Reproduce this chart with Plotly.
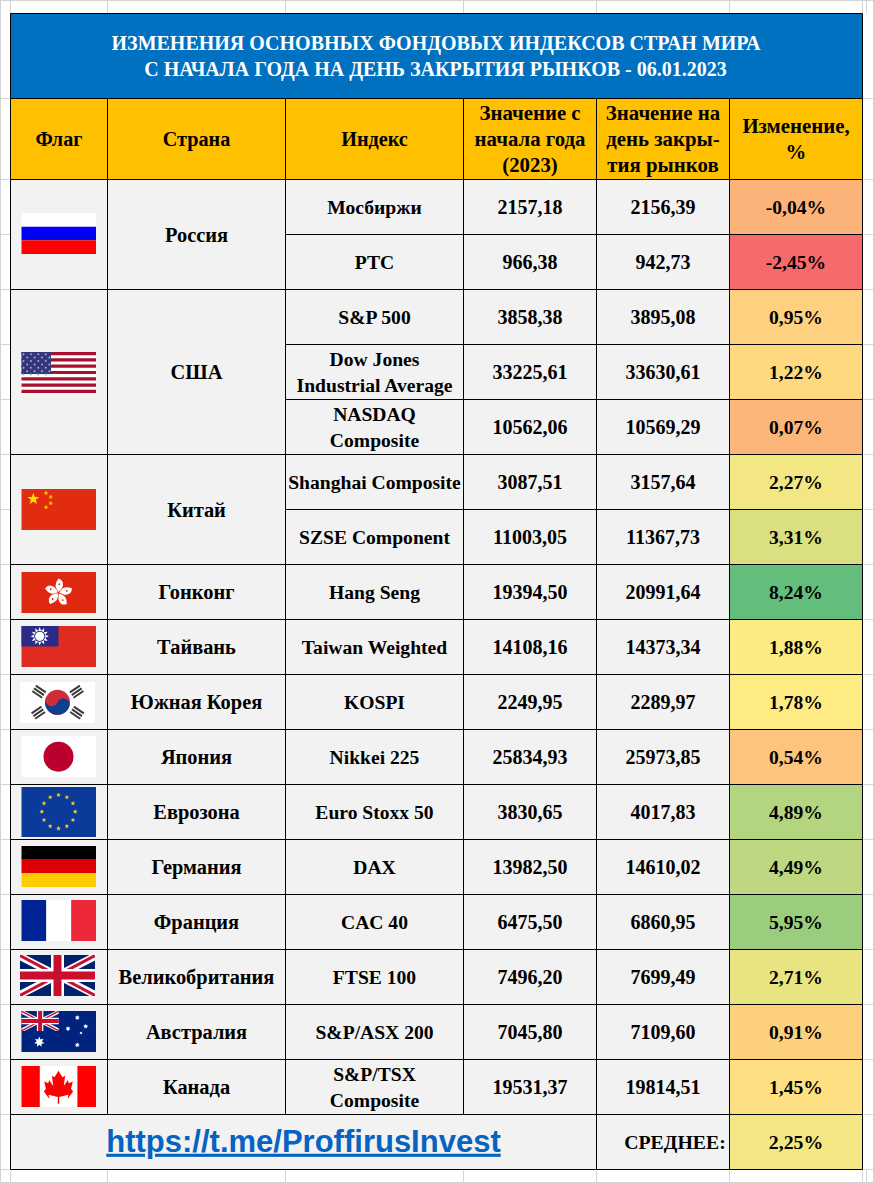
import math
import plotly.graph_objects as go

# ---------- data ----------
title_lines = ["ИЗМЕНЕНИЯ ОСНОВНЫХ ФОНДОВЫХ ИНДЕКСОВ СТРАН МИРА",
               "С НАЧАЛА ГОДА НА ДЕНЬ ЗАКРЫТИЯ РЫНКОВ - 06.01.2023"]
headers = ["Флаг", "Страна", "Индекс", "Значение с\nначала года\n(2023)",
           "Значение на\nдень закры-\nтия рынков", "Изменение,\n%"]
countries = ["Россия", "США", "Китай", "Гонконг", "Тайвань", "Южная Корея", "Япония",
             "Еврозона", "Германия", "Франция", "Великобритания", "Австралия", "Канада"]
country_row_counts = [2, 3, 2, 1, 1, 1, 1, 1, 1, 1, 1, 1, 1]
indices = ["Мосбиржи", "РТС", "S&P 500", "Dow Jones\nIndustrial Average", "NASDAQ\nComposite",
           "Shanghai Composite", "SZSE Component", "Hang Seng", "Taiwan Weighted", "KOSPI",
           "Nikkei 225", "Euro Stoxx 50", "DAX", "CAC 40", "FTSE 100", "S&P/ASX 200",
           "S&P/TSX\nComposite"]
start_values = [2157.18, 966.38, 3858.38, 33225.61, 10562.06, 3087.51, 11003.05, 19394.50,
                14108.16, 2249.95, 25834.93, 3830.65, 13982.50, 6475.50, 7496.20, 7045.80, 19531.37]
close_values = [2156.39, 942.73, 3895.08, 33630.61, 10569.29, 3157.64, 11367.73, 20991.64,
                14373.34, 2289.97, 25973.85, 4017.83, 14610.02, 6860.95, 7699.49, 7109.60, 19814.51]
changes = [-0.04, -2.45, 0.95, 1.22, 0.07, 2.27, 3.31, 8.24, 1.88, 1.78, 0.54, 4.89, 4.49,
           5.95, 2.71, 0.91, 1.45]
average_label = "СРЕДНЕЕ:"
average_change = 2.25
link_text = "https://t.me/ProffirusInvest"

# ---------- layout geometry (pixels) ----------
X = [10.5, 107.5, 285.5, 463.5, 596.5, 729.5, 862.5]
Y_TITLE, Y_HEAD, Y_BODY = 13.5, 98.5, 179.5
ROW_Y = [179.5, 234.5, 289.5, 344.5, 399.5, 454.5, 509.5, 564.5, 619.5, 674.5, 729.5,
         784.5, 839.5, 894.5, 949.5, 1004.5, 1059.5, 1114.5]
Y_END = 1169.5
W, H = 873, 1183
SERIF = "Liberation Serif"
CELL_SIZE = 19.8

shapes = []

def rect(x0, y0, x1, y1, fill, line=None, lw=1):
    shapes.append(dict(type="rect", xref="x", yref="y", x0=x0, y0=y0, x1=x1, y1=y1,
                       fillcolor=fill, line=dict(color=line or "rgba(0,0,0,0)", width=lw if line else 0),
                       layer="below"))

def poly(pts, fill):
    p = "M" + " L".join(f"{a:.2f},{b:.2f}" for a, b in pts) + " Z"
    shapes.append(dict(type="path", xref="x", yref="y", path=p, fillcolor=fill, line=dict(width=0), layer="below"))

def circle(cx, cy, r, fill):
    shapes.append(dict(type="circle", xref="x", yref="y", x0=cx - r, x1=cx + r, y0=cy - r, y1=cy + r,
                       fillcolor=fill, line=dict(width=0), layer="below"))

def star(cx, cy, r, fill, n=5, inner=0.42, rot=-90):
    pts = []
    for i in range(2 * n):
        rr = r if i % 2 == 0 else r * inner
        a = math.radians(rot + i * 180 / n)
        pts.append((cx + rr * math.cos(a), cy + rr * math.sin(a)))
    poly(pts, fill)

def hline(x0, x1, y, color="#d4d4d4", w=1):
    shapes.append(dict(type="line", xref="x", yref="y", x0=x0, x1=x1, y0=y, y1=y, line=dict(color=color, width=w), layer="below"))

def vline(x, y0, y1, color="#d4d4d4", w=1):
    shapes.append(dict(type="line", xref="x", yref="y", x0=x, x1=x, y0=y0, y1=y1, line=dict(color=color, width=w), layer="below"))

# spreadsheet gridlines outside the table
hline(0, W, 0.5)
hline(0, W, H - 0.5)
vline(0.5, 0, H)
vline(866.5, 0, 13)
vline(866.5, 1170, H)
for x in X:
    vline(x, 0, 13)
    vline(x, 1170, H)
for y in [Y_HEAD] + ROW_Y + [Y_END]:
    hline(0, 10, y)
    hline(863, W, y)

# ---------- change colours: Excel style 3-colour scale ----------
def lerp(a, b, t):
    return tuple(a[i] + (b[i] - a[i]) * t for i in range(3))

RED, YEL, GRN = (248, 105, 107), (255, 235, 132), (99, 190, 123)
lo, hi = min(changes), max(changes)
mid = sorted(changes)[len(changes) // 2]

def scale(v):
    if v <= mid:
        c = lerp(RED, YEL, (v - lo) / (mid - lo))
    else:
        c = lerp(YEL, GRN, (v - mid) / (hi - mid))
    return "rgb(%d,%d,%d)" % c

# ---------- cells ----------
BLK = "#000000"
rect(X[0], Y_TITLE, X[6], Y_HEAD, "#0070C0", BLK)
for i in range(6):
    rect(X[i], Y_HEAD, X[i + 1], Y_BODY, "#FFC000", BLK)
GREY = "#F2F2F2"
r = 0
country_spans = []
for n in country_row_counts:
    y0, y1 = ROW_Y[r], ROW_Y[r + n]
    country_spans.append((y0, y1))
    rect(X[0], y0, X[1], y1, GREY, BLK)
    rect(X[1], y0, X[2], y1, GREY, BLK)
    r += n
for i, ch in enumerate(changes):
    y0, y1 = ROW_Y[i], ROW_Y[i + 1]
    rect(X[2], y0, X[3], y1, GREY, BLK)
    rect(X[3], y0, X[4], y1, GREY, BLK)
    rect(X[4], y0, X[5], y1, GREY, BLK)
    rect(X[5], y0, X[6], y1, scale(ch), BLK)
rect(X[0], ROW_Y[-1], X[4], Y_END, GREY, BLK)
rect(X[4], ROW_Y[-1], X[5], Y_END, GREY, BLK)
rect(X[5], ROW_Y[-1], X[6], Y_END, scale(average_change), BLK)

# ---------- flags ----------
FX0, FX1 = 21.5, 96.0

def uk(x0, y0, x1, y1, navy="#012169", k=1.0):
    rect(x0, y0, x1, y1, navy)
    def diag(xa, ya, xb, yb, t, c):
        sx = 1 if xb > xa else -1
        poly([(xa, ya), (xa + sx * t, ya), (xb, yb - t), (xb, yb), (xb - sx * t, yb), (xa, ya + t)], c)
    t = 5.5 * k
    diag(x0, y0, x1, y1, t, "#FFFFFF")
    diag(x1, y0, x0, y1, t, "#FFFFFF")
    diag(x0, y0, x1, y1, 2.2 * k, "#C8102E")
    diag(x1, y0, x0, y1, 2.2 * k, "#C8102E")
    cx, cy = (x0 + x1) / 2, (y0 + y1) / 2
    rect(cx - 6.5 * k, y0, cx + 6.5 * k, y1, "#FFFFFF")
    rect(x0, cy - 6.5 * k, x1, cy + 6.5 * k, "#FFFFFF")
    rect(cx - 4 * k, y0, cx + 4 * k, y1, "#C8102E")
    rect(x0, cy - 4 * k, x1, cy + 4 * k, "#C8102E")

# Russia
y0, y1 = 213, 254
h = (y1 - y0) / 3
rect(FX0, y0, FX1, y0 + h, "#FFFFFF"); rect(FX0, y0 + h, FX1, y0 + 2 * h, "#0000F5"); rect(FX0, y0 + 2 * h, FX1, y1, "#FF0000")

# USA
y0, y1 = 352, 393
h = (y1 - y0) / 13
rect(FX0, y0, FX1, y1, "#FFFFFF")
for i in range(0, 13, 2):
    rect(FX0, y0 + i * h, FX1, y0 + (i + 1) * h, "#A8102E")
rect(FX0, y0, 51, y0 + 7 * h, "#34357A")
for j in range(7):
    for i in range(8):
        if (i + j) % 2 == 0:
            circle(FX0 + 2 + i * 3.7, y0 + 2.2 + j * 3.4, 1.0, "#A9ABCF")

# China
y0, y1 = 489, 530
rect(FX0, y0, FX1, y1, "#E22C10")
star(33.3, 499, 6.2, "#FFDE00")
for (a, b) in [(46, 493), (50.7, 497), (50.7, 503.3), (46, 507.3)]:
    circle(a, b, 1.7, "#F5B800")

# Hong Kong
y0, y1 = 572, 613
rect(FX0, y0, FX1, y1, "#DE2910")
cx, cy = 58.5, 592.7
for k in range(5):
    a = math.radians(-90 + 72 * k + 6)
    ux, uy = math.cos(a), math.sin(a)
    vx, vy = -uy, ux
    def P(s, t):
        return (cx + ux * s + vx * t, cy + uy * s + vy * t)
    p0, c1, tip, c2, c3 = P(0.8, 0), P(6, -6.5), P(14, -1.5), P(13, 4.5), P(6, 3.5)
    path = (f"M{p0[0]:.2f},{p0[1]:.2f} Q{c1[0]:.2f},{c1[1]:.2f} {tip[0]:.2f},{tip[1]:.2f} "
            f"Q{c2[0]:.2f},{c2[1]:.2f} {c3[0]:.2f},{c3[1]:.2f} Q{P(3,2)[0]:.2f},{P(3,2)[1]:.2f} {p0[0]:.2f},{p0[1]:.2f} Z")
    shapes.append(dict(type="path", xref="x", yref="y", path=path, fillcolor="#FFFFFF", line=dict(width=0), layer="below"))
    d = P(8.5, 0)
    circle(d[0], d[1], 0.9, "#DE2910")

# Taiwan
y0, y1 = 626, 667
rect(FX0, y0, FX1, y1, "#E02C20")
rect(FX0, y0, 58.5, 646.6, "#2B2A85")
star(39.7, 636.3, 9.2, "#FFFFFF", n=12, inner=0.62)
circle(39.7, 636.3, 5.6, "#2B2A85")
circle(39.7, 636.3, 4.6, "#FFFFFF")

# South Korea
x0, x1 = 20, 95
y0, y1 = 682, 723
rect(x0, y0, x1, y1, "#FFFFFF")
cx, cy, R = 57.5, 702.3, 12.5
circle(cx, cy, R, "#CD2E3A")
ang = math.radians(22)
ax, ay = R * math.cos(ang), R * math.sin(ang)
pts = [(cx + R * math.cos(math.radians(22 + t * 180 / 24)), cy + R * math.sin(math.radians(22 + t * 180 / 24))) for t in range(25)]
r2 = R / 2
pts += [(cx - ax / 2 + r2 * math.cos(math.radians(202 - t * 180 / 12)), cy - ay / 2 + r2 * math.sin(math.radians(202 - t * 180 / 12))) for t in range(1, 13)]
pts += [(cx + ax / 2 + r2 * math.cos(math.radians(202 + t * 180 / 12)), cy + ay / 2 + r2 * math.sin(math.radians(202 + t * 180 / 12))) for t in range(1, 13)]
poly(pts, "#0B3F8F")
for (tx, ty, deg) in [(39, 691.7, -56), (76.7, 691.7, 56), (38.3, 712.7, 56), (77, 712.7, -56)]:
    a = math.radians(deg)
    ux, uy = math.cos(a), math.sin(a)
    vx, vy = -uy, ux
    for off in (-3.2, 0, 3.2):
        cxx, cyy = tx + ux * off, ty + uy * off
        poly([(cxx + vx * s + ux * w, cyy + vy * s + uy * w) for s, w in [(-6, -1), (6, -1), (6, 1), (-6, 1)]], "#3a3a3a")

# Japan
y0, y1 = 736, 777
rect(FX0, y0, FX1, y1, "#FFFFFF")
circle(58.5, 756.7, 15, "#BC002D")

# EU
y0, y1 = 787, 837
rect(FX0, y0, FX1, y1, "#0B3A9B")
for k in range(12):
    a = math.radians(30 * k - 90)
    star(58.5 + 16.7 * math.cos(a), 811.7 + 16.7 * math.sin(a), 2.5, "#FFD21A")

# Germany
y0, y1 = 846, 887
h = (y1 - y0) / 3
rect(FX0, y0, FX1, y0 + h, "#000000"); rect(FX0, y0 + h, FX1, y0 + 2 * h, "#DD0000"); rect(FX0, y0 + 2 * h, FX1, y1, "#FFCE00")

# France
y0, y1 = 900, 941
w = (FX1 - FX0) / 3
rect(FX0, y0, FX0 + w, y1, "#002395"); rect(FX0 + w, y0, FX0 + 2 * w, y1, "#FFFFFF"); rect(FX0 + 2 * w, y0, FX1, y1, "#ED2939")

# UK
uk(20, 955, 95, 996)

# Australia
y0, y1 = 1011, 1052
rect(FX0, y0, FX1, y1, "#00247D")
uk(FX0, y0, 58.7, 1031, navy="#00247D", k=0.5)
star(39.3, 1042, 5.4, "#FFFFFF", n=7, inner=0.5)
for (a, b, s) in [(77.3, 1017.7, 2.6), (68, 1028.7, 2.6), (85.7, 1026.3, 2.6), (81, 1033, 1.6), (77.3, 1045, 2.6)]:
    star(a, b, s, "#FFFFFF", n=7, inner=0.5)

# Canada
y0, y1 = 1066, 1107
rect(FX0, y0, FX1, y1, "#FFFFFF")
rect(FX0, y0, 39.8, y1, "#FF0000")
rect(77.4, y0, FX1, y1, "#FF0000")
half = [(0, 0), (0.27, 0.2), (0.45, 0.15), (0.36, 0.46), (0.64, 0.28), (0.7, 0.38), (0.98, 0.33),
        (0.86, 0.55), (1.0, 0.63), (0.62, 0.86), (0.68, 0.73), (0.05, 0.8), (0.05, 1.0)]
lx, ly, lh = 58.5, 1070.7, 33.0
leaf = [(lx + 14.6 * a, ly + lh * b) for a, b in half] + [(lx - 14.6 * a, ly + lh * b) for a, b in reversed(half)]
poly(leaf, "#FF0000")

# ---------- text ----------
def cell_text(xs, ys, labels, size=CELL_SIZE, color="#000000", family=SERIF, name=""):
    """One text trace; multi-line labels become one point per line, 26 px apart."""
    tx, ty, tt = [], [], []
    for x, y, lab in zip(xs, ys, labels):
        parts = lab.split("\n")
        for k, p in enumerate(parts):
            tx.append(x)
            ty.append(y + 2 + (k - (len(parts) - 1) / 2) * 26)
            tt.append(p)
    return go.Scatter(x=tx, y=ty, text=tt, mode="text", name=name, hoverinfo="skip", showlegend=False,
                      textposition="middle center",
                      textfont=dict(family=family, size=size, color=color, weight="bold"))

def fmt(v):
    return f"{v:.2f}".replace(".", ",")

def pct(v):
    return fmt(v) + "%"

cols = [(X[i] + X[i + 1]) / 2 for i in range(6)]
row_mid = [(ROW_Y[i] + ROW_Y[i + 1]) / 2 for i in range(len(changes))]
country_mid = [(a + b) / 2 for a, b in country_spans]
last_mid = (ROW_Y[-1] + Y_END) / 2
head_mid = (Y_HEAD + Y_BODY) / 2

fig = go.Figure()
fig.add_trace(cell_text([436, 435.5], [43, 69], title_lines, size=20, color="#FFFFFF", name="title"))
fig.add_trace(cell_text(cols[:3], [head_mid] * 3, headers[:3], size=20.2, name="headers"))
fig.add_trace(cell_text(cols[3:], [head_mid] * 3, headers[3:], size=20.8, name="headers wrapped"))
fig.add_trace(cell_text([cols[1]] * len(countries), country_mid, countries, size=20.4, name="country"))
fig.add_trace(cell_text([cols[2]] * len(indices), row_mid, indices, size=19.6, name="index"))
fig.add_trace(cell_text([cols[3]] * len(indices), row_mid, [fmt(v) for v in start_values], size=20, name="start"))
fig.add_trace(cell_text([cols[4]] * len(indices), row_mid, [fmt(v) for v in close_values], size=20, name="close"))
fig.add_trace(cell_text([cols[5]] * len(indices), row_mid, [pct(v) for v in changes], size=19.6, name="change"))
fig.add_trace(cell_text([675, cols[5]], [last_mid] * 2, [average_label, pct(average_change)], size=19.8, name="average"))
fig.add_trace(cell_text([303.5], [last_mid], ["<u>" + link_text + "</u>"], size=31, color="#0563C1",
                        family="Liberation Sans", name="link"))

fig.update_layout(
    width=W, height=H, margin=dict(l=0, r=0, t=0, b=0), autosize=False,
    paper_bgcolor="#FFFFFF", plot_bgcolor="#FFFFFF", shapes=shapes, showlegend=False,
    xaxis=dict(range=[0, W], visible=False, fixedrange=True),
    yaxis=dict(range=[H, 0], visible=False, fixedrange=True),
)
fig.write_html("out.html", config=dict(displayModeBar=False, staticPlot=True),
               post_script="document.body.style.margin='0';document.body.style.overflow='hidden';")
